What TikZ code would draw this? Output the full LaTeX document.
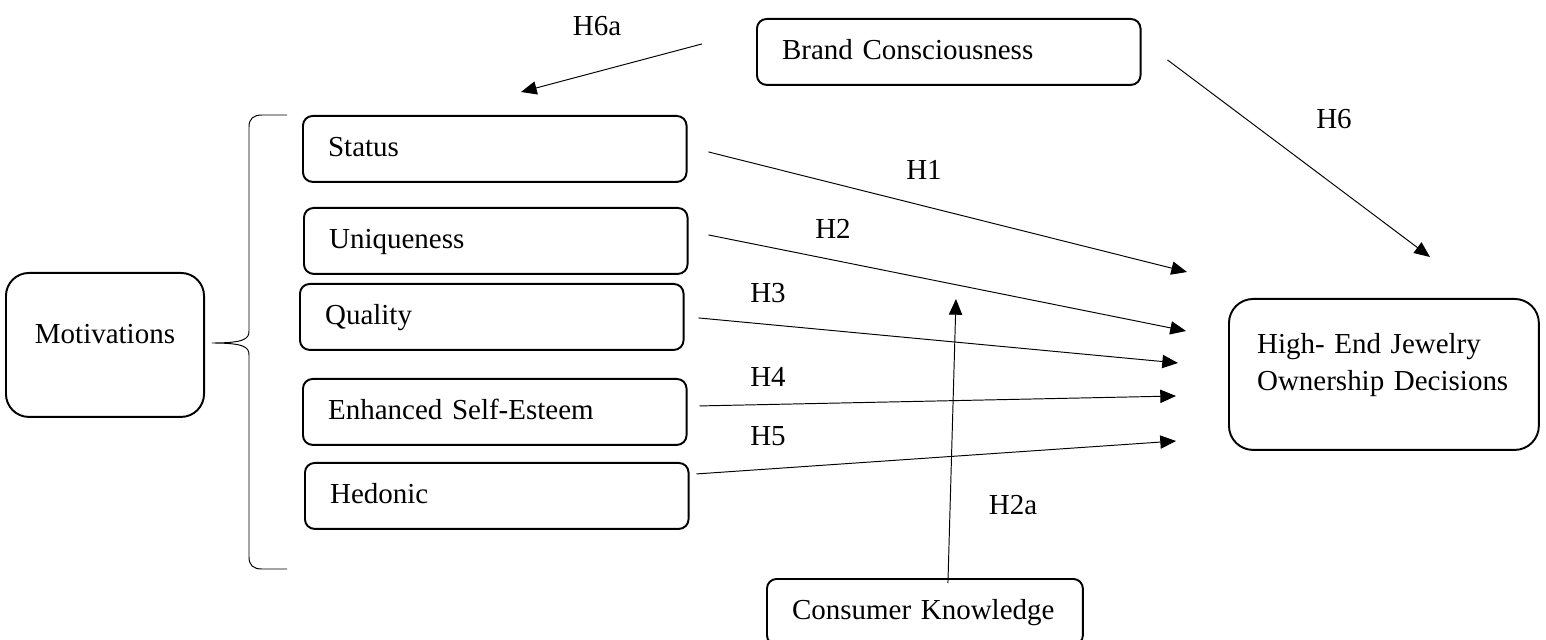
\documentclass[tikz,border=0pt]{standalone}
\usepackage{fontspec}
\setmainfont{Liberation Serif}
\usetikzlibrary{arrows.meta,calc}

\begin{document}
\begin{tikzpicture}[x=0.414pt, y=-0.414pt, font=\fontsize{12}{14.4}\selectfont,
        factor/.style={draw, thick, rounded corners=4pt, anchor=north west, align=left, text width=138pt, inner xsep=10.4pt, minimum height=27.3pt, text height=8pt, text depth=1.4pt},
        hyp/.style={-{Triangle[length=6.5pt, width=5.5pt]}},
        tag/.style={inner sep=0pt}]
        \useasboundingbox (0,0) rectangle (1546,640);

        % constructs
        \node [draw, thick, rounded corners=9.5pt, anchor=north west, minimum width=82pt, minimum height=59.6pt, text height=8pt, text depth=9pt] (motiv) at (5,272) {Motivations};
        \node [factor] (status) at (302,115) {Status};
        \node [factor] (unique) at (303,207) {Uniqueness};
        \node [factor] (quality) at (299,283) {Quality};
        \node [factor] (esteem) at (302,378) {Enhanced Self-Esteem};
        \node [factor] (hedonic) at (304,462) {Hedonic};
        \node [factor] (brand) at (756,18) {Brand Consciousness};
        \node [factor, text width=110pt] (knowledge) at (766,578) {Consumer Knowledge};
        \node [draw, thick, rounded corners=10pt, anchor=north west, align=left, text width=105pt, inner xsep=11.65pt, minimum height=62.5pt, text height=8pt, text depth=25pt, font=\fontsize{12}{15.3}\selectfont] (jewelry) at (1228,298) {High- End Jewelry\\Ownership Decisions};

        % brace
        \draw (287,115) -- (262,115) .. controls (253,115) and (249,119) .. (249,127)
            -- (249,331) .. controls (249,339) and (244,343) .. (212,343)
            .. controls (244,343) and (249,347) .. (249,355)
            -- (249,557) .. controls (249,565) and (253,569) .. (262,569) -- (287,569);

        % arrow ends
        \coordinate (h1end) at (1187,272);
        \coordinate (h2end) at (1186,331);
        \coordinate (h3end) at (1178,363);
        \coordinate (h4end) at (1176,396);
        \coordinate (h5end) at (1176,441);
        \coordinate (h6end) at (1430,257);
        \coordinate (h6aend) at (521,92);
        \coordinate (h2aend) at (956,299);

        \draw [hyp] ($(status.east)+(21,3)$) -- (h1end);
        \draw [hyp] ($(unique.east)+(20,-6)$) -- (h2end);
        \draw [hyp] ($(quality.east)+(14,1)$) -- (h3end);
        \draw [hyp] ($(esteem.east)+(12,-6)$) -- (h4end);
        \draw [hyp] ($(hedonic.east)+(7,-22)$) -- (h5end);
        \draw [hyp] ($(brand.east)+(26,8)$) -- (h6end);
        \draw [hyp] ($(brand.west)+(-54,-8)$) -- (h6aend);
        \draw [hyp] ($(knowledge.north)+(23,5)$) -- (h2aend);

        % hypotheses
        \node [tag] (lab6a) at (597,26) {H6a};
        \node [tag] (lab6) at (1334,119) {H6};
        \node [tag] (lab1) at (924,170) {H1};
        \node [tag] (lab2) at (833,229) {H2};
        \node [tag] (lab3) at (768,293) {H3};
        \node [tag] (lab4) at (768,377) {H4};
        \node [tag] (lab5) at (768,436) {H5};
        \node [tag] (lab2a) at (1013,505) {H2a};
\end{tikzpicture}
\end{document}
